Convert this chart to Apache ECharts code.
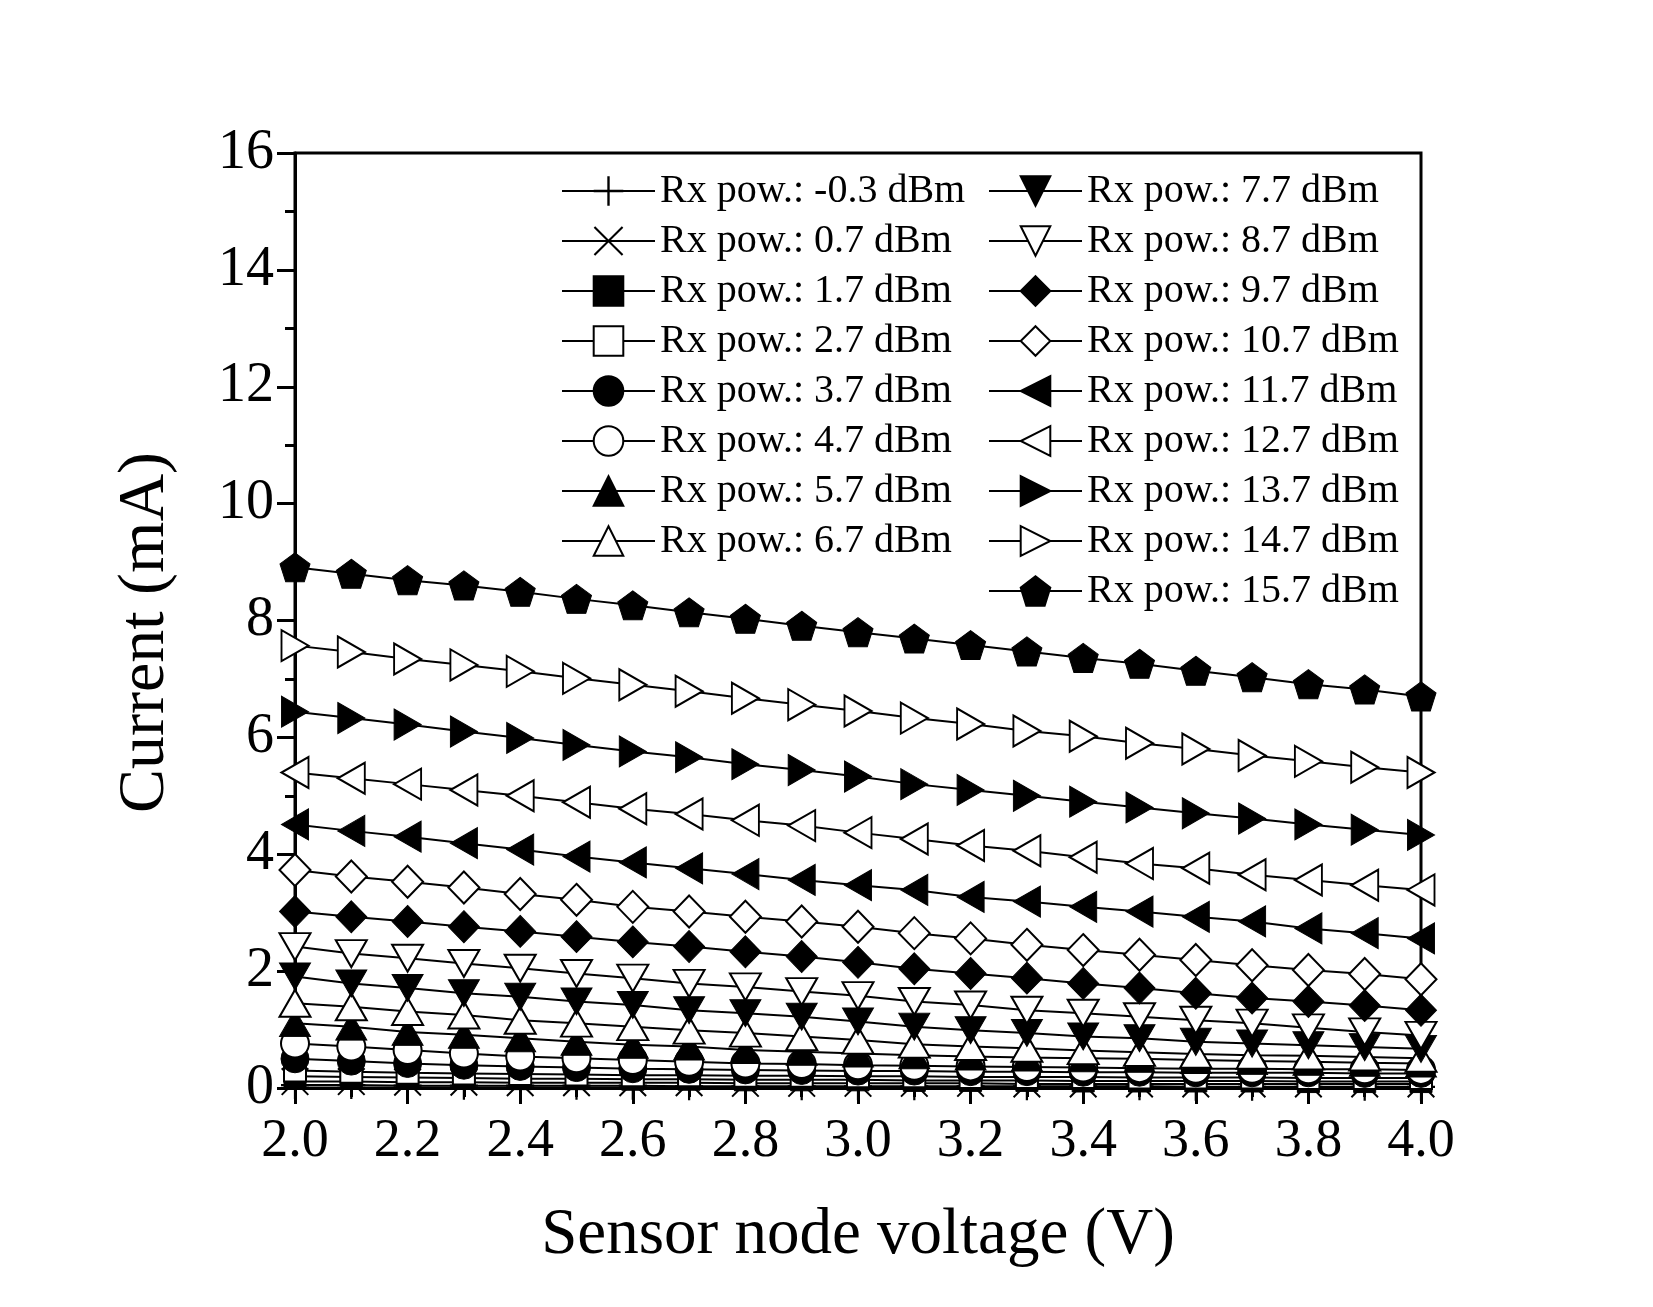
<!DOCTYPE html>
<html>
<head>
<meta charset="utf-8">
<script src="https://cdn.jsdelivr.net/npm/echarts@6/dist/echarts.min.js"></script>
<style>
  html, body { margin: 0; padding: 0; background: #fff; }
  #main { width: 1653px; height: 1307px; }
</style>
</head>
<body>
<div id="main"></div>
<script>
// sensor node voltage (V)
var voltages = [2.0, 2.1, 2.2, 2.3, 2.4, 2.5, 2.6, 2.7, 2.8, 2.9, 3.0,
                3.1, 3.2, 3.3, 3.4, 3.5, 3.6, 3.7, 3.8, 3.9, 4.0];

// current (mA) for each received power
var rxm0_3 = [0.05, 0.05, 0.04, 0.04, 0.04, 0.04, 0.04, 0.03, 0.03, 0.03, 0.03, 0.03, 0.03, 0.03, 0.03, 0.03, 0.02, 0.02, 0.02, 0.02, 0.02];
var rx0_7  = [0.11, 0.11, 0.10, 0.10, 0.09, 0.09, 0.09, 0.09, 0.08, 0.08, 0.08, 0.08, 0.08, 0.07, 0.07, 0.07, 0.07, 0.07, 0.07, 0.07, 0.07];
var rx1_7  = [0.20, 0.19, 0.18, 0.17, 0.16, 0.16, 0.15, 0.15, 0.14, 0.14, 0.14, 0.13, 0.13, 0.13, 0.12, 0.12, 0.12, 0.12, 0.11, 0.11, 0.11];
var rx2_7  = [0.30, 0.28, 0.26, 0.25, 0.24, 0.23, 0.22, 0.22, 0.21, 0.21, 0.20, 0.20, 0.19, 0.19, 0.19, 0.18, 0.18, 0.18, 0.17, 0.17, 0.17];
var rx3_7  = [0.50, 0.46, 0.42, 0.39, 0.37, 0.35, 0.33, 0.32, 0.31, 0.30, 0.29, 0.29, 0.28, 0.28, 0.27, 0.27, 0.26, 0.26, 0.26, 0.25, 0.25];
var rx4_7  = [0.76, 0.71, 0.65, 0.59, 0.54, 0.51, 0.48, 0.45, 0.42, 0.41, 0.39, 0.38, 0.37, 0.36, 0.35, 0.34, 0.33, 0.33, 0.32, 0.32, 0.31];
var rx5_7  = [1.11, 1.05, 0.96, 0.91, 0.85, 0.79, 0.74, 0.71, 0.65, 0.62, 0.59, 0.56, 0.54, 0.52, 0.51, 0.50, 0.48, 0.46, 0.45, 0.43, 0.42];
var rx6_7  = [1.45, 1.39, 1.31, 1.25, 1.16, 1.11, 1.05, 0.99, 0.94, 0.88, 0.82, 0.75, 0.71, 0.68, 0.64, 0.61, 0.58, 0.56, 0.55, 0.53, 0.51];
var rx7_7  = [1.91, 1.79, 1.71, 1.62, 1.56, 1.48, 1.42, 1.33, 1.28, 1.22, 1.14, 1.05, 0.99, 0.94, 0.88, 0.85, 0.79, 0.76, 0.73, 0.70, 0.67];
var rx8_7  = [2.42, 2.30, 2.22, 2.13, 2.05, 1.96, 1.88, 1.79, 1.73, 1.65, 1.58, 1.48, 1.42, 1.33, 1.28, 1.22, 1.16, 1.11, 1.03, 0.96, 0.90];
var rx9_7  = [3.02, 2.93, 2.85, 2.76, 2.68, 2.59, 2.50, 2.42, 2.33, 2.25, 2.15, 2.04, 1.96, 1.88, 1.79, 1.71, 1.62, 1.54, 1.48, 1.41, 1.33];
var rx10_7 = [3.73, 3.62, 3.53, 3.43, 3.32, 3.22, 3.10, 3.02, 2.93, 2.85, 2.76, 2.65, 2.56, 2.45, 2.36, 2.28, 2.19, 2.10, 2.02, 1.95, 1.86];
var rx11_7 = [4.51, 4.40, 4.30, 4.19, 4.08, 3.96, 3.86, 3.76, 3.66, 3.56, 3.47, 3.39, 3.27, 3.19, 3.10, 3.02, 2.93, 2.85, 2.73, 2.65, 2.56];
var rx12_7 = [5.40, 5.30, 5.20, 5.10, 5.00, 4.89, 4.78, 4.69, 4.58, 4.49, 4.37, 4.26, 4.15, 4.06, 3.95, 3.84, 3.76, 3.65, 3.56, 3.47, 3.39];
var rx13_7 = [6.44, 6.33, 6.22, 6.10, 5.99, 5.87, 5.76, 5.66, 5.54, 5.44, 5.33, 5.20, 5.10, 5.00, 4.90, 4.80, 4.70, 4.61, 4.51, 4.42, 4.33];
var rx14_7 = [7.57, 7.46, 7.34, 7.24, 7.13, 7.01, 6.90, 6.79, 6.67, 6.56, 6.45, 6.33, 6.23, 6.11, 6.02, 5.90, 5.80, 5.69, 5.59, 5.49, 5.40];
var rx15_7 = [8.91, 8.80, 8.69, 8.60, 8.49, 8.37, 8.26, 8.14, 8.03, 7.91, 7.80, 7.69, 7.58, 7.47, 7.36, 7.26, 7.14, 7.03, 6.91, 6.82, 6.70];

var seriesNames = ['Rx pow.: -0.3 dBm', 'Rx pow.: 0.7 dBm', 'Rx pow.: 1.7 dBm', 'Rx pow.: 2.7 dBm',
                   'Rx pow.: 3.7 dBm', 'Rx pow.: 4.7 dBm', 'Rx pow.: 5.7 dBm', 'Rx pow.: 6.7 dBm',
                   'Rx pow.: 7.7 dBm', 'Rx pow.: 8.7 dBm', 'Rx pow.: 9.7 dBm', 'Rx pow.: 10.7 dBm',
                   'Rx pow.: 11.7 dBm', 'Rx pow.: 12.7 dBm', 'Rx pow.: 13.7 dBm', 'Rx pow.: 14.7 dBm',
                   'Rx pow.: 15.7 dBm'];
var seriesValues = [rxm0_3, rx0_7, rx1_7, rx2_7, rx3_7, rx4_7, rx5_7, rx6_7, rx7_7,
                    rx8_7, rx9_7, rx10_7, rx11_7, rx12_7, rx13_7, rx14_7, rx15_7];

// marker shapes (Origin style)
var PLUS = 'path://M46,0 L54,0 L54,46 L100,46 L100,54 L54,54 L54,100 L46,100 L46,54 L0,54 L0,46 L46,46 Z';
var CROSS = 'path://M0,5 L5,0 L50,45 L95,0 L100,5 L55,50 L100,95 L95,100 L50,55 L5,100 L0,95 L45,50 Z';
var TRI_DOWN = 'path://M0,0 L100,0 L50,86 Z';
var TRI_LEFT = 'path://M86,0 L86,100 L0,50 Z';
var TRI_RIGHT = 'path://M0,0 L86,50 L0,100 Z';
var PENTAGON = 'path://M50,0 L100,36.3 L80.9,95.1 L19.1,95.1 L0,36.3 Z';

// [symbol, size, filled]
var markers = [
  [PLUS, 28, 'line'],
  [CROSS, 28, 'line'],
  ['rect', 22, true],
  ['rect', 22, false],
  ['circle', 28, true],
  ['circle', 28, false],
  ['triangle', [31, 27], true],
  ['triangle', [31, 27], false],
  [TRI_DOWN, [31, 27], true],
  [TRI_DOWN, [31, 27], false],
  ['diamond', [31, 32], true],
  ['diamond', [31, 32], false],
  [TRI_LEFT, [27, 31], true],
  [TRI_LEFT, [27, 31], false],
  [TRI_RIGHT, [27, 31], true],
  [TRI_RIGHT, [27, 31], false],
  [PENTAGON, [30, 29], true]
];

var FONT = 'Liberation Serif';

var series = seriesValues.map(function (vals, i) {
  var m = markers[i];
  var style;
  if (m[2] === 'line') {
    style = { color: '#000', borderWidth: 0 };
  } else if (m[2]) {
    style = { color: '#000', borderColor: '#000', borderWidth: 1 };
  } else {
    style = { color: '#fff', borderColor: '#000', borderWidth: 2 };
  }
  return {
    name: seriesNames[i],
    type: 'line',
    data: voltages.map(function (v, k) { return [v, vals[k]]; }),
    symbol: m[0],
    symbolSize: m[1],
    showAllSymbol: true,
    lineStyle: { color: '#000', width: 2 },
    itemStyle: style,
    emphasis: { disabled: true },
    animation: false
  };
});

var legendText = { fontFamily: FONT, fontSize: 40, color: '#000' };

var option = {
  backgroundColor: '#fff',
  animation: false,
  grid: {
    left: 295,
    right: 232,
    top: 153,
    bottom: 219,
    show: true,
    borderColor: '#000',
    borderWidth: 3
  },
  legend: [{
    data: seriesNames.slice(0, 8),
    orient: 'vertical',
    left: 556,
    top: 166,
    itemWidth: 93,
    itemHeight: 37,
    itemGap: 10,
    selectedMode: false,
    textStyle: legendText
  }, {
    data: seriesNames.slice(8),
    orient: 'vertical',
    left: 983,
    top: 166,
    itemWidth: 93,
    itemHeight: 37,
    itemGap: 10,
    selectedMode: false,
    textStyle: legendText
  }],
  xAxis: {
    type: 'value',
    min: 2,
    max: 4,
    interval: 0.2,
    name: 'Sensor node voltage (V)',
    nameLocation: 'middle',
    nameGap: 115,
    nameTextStyle: { fontFamily: FONT, fontSize: 65, color: '#000' },
    axisLine: { lineStyle: { color: '#000', width: 3 } },
    axisTick: { length: 16, lineStyle: { color: '#000', width: 3 } },
    minorTick: { show: true, splitNumber: 2, length: 9, lineStyle: { color: '#000', width: 3 } },
    splitLine: { show: false },
    axisLabel: {
      margin: 27,
      fontFamily: FONT,
      fontSize: 54,
      color: '#000',
      formatter: function (v) { return v.toFixed(1); }
    }
  },
  yAxis: {
    type: 'value',
    min: 0,
    max: 16,
    interval: 2,
    name: 'Current (mA)',
    nameLocation: 'middle',
    nameGap: 116,
    nameTextStyle: { fontFamily: FONT, fontSize: 66, color: '#000', padding: [0, 24, 0, 0] },
    axisLine: { lineStyle: { color: '#000', width: 3 } },
    axisTick: { length: 18, lineStyle: { color: '#000', width: 3 } },
    minorTick: { show: true, splitNumber: 2, length: 10, lineStyle: { color: '#000', width: 3 } },
    splitLine: { show: false },
    axisLabel: {
      margin: 21,
      fontFamily: FONT,
      fontSize: 56,
      color: '#000'
    }
  },
  series: series
};

var chart = echarts.init(document.getElementById('main'), null, { renderer: 'canvas' });
chart.setOption(option);
</script>
</body>
</html>
